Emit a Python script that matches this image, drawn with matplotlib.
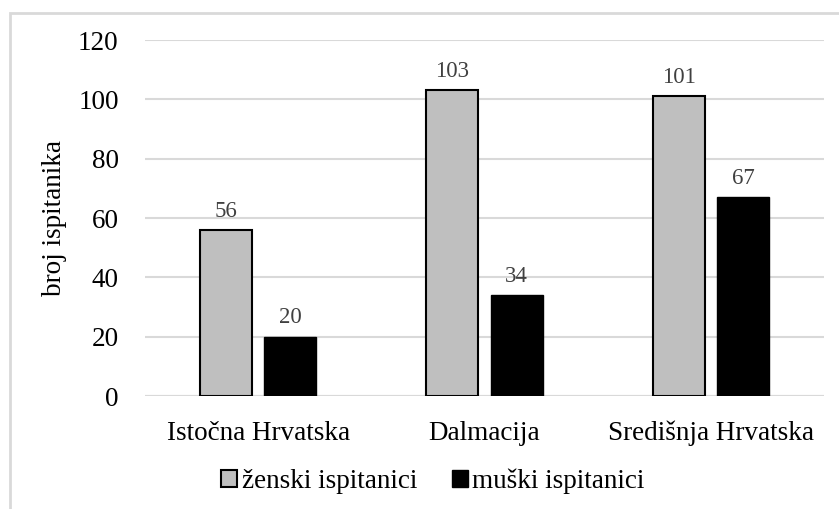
import numpy as np
import matplotlib.pyplot as plt
from matplotlib.patches import Rectangle

regije = ['Istočna Hrvatska', 'Dalmacija', 'Središnja Hrvatska']
zenski = [56, 103, 101]
muski = [20, 34, 67]
serije = ['ženski ispitanici', 'muški ispitanici']
y_ticks = [0, 20, 40, 60, 80, 100, 120]

plt.rcParams['font.family'] = ['Liberation Serif', 'DejaVu Serif']

fig = plt.figure(figsize=(8.39, 5.09), dpi=100)
# light frame around the chart area
fig.patches.append(Rectangle((10 / 839, -0.1), 1.2, 1 - 13 / 509 + 0.1,
                             transform=fig.transFigure, fill=False,
                             edgecolor='#d9d9d9', linewidth=2))

ax = fig.add_axes([145 / 839, 1 - 396 / 509, 679 / 839, 356 / 509])

x = np.arange(len(regije))
w = 0.23
off = 0.142
b1 = ax.bar(x - off, zenski, w, color='#bfbfbf', edgecolor='black', linewidth=1.5,
            label=serije[0], zorder=3)
b2 = ax.bar(x + off, muski, w, color='black', edgecolor='black', linewidth=1.0,
            label=serije[1], zorder=3)

for bars in (b1, b2):
    for r in bars:
        ax.annotate(f'{int(r.get_height())}', (r.get_x() + r.get_width() / 2, r.get_height()),
                    xytext=(0, 6), textcoords='offset points', ha='center', va='bottom',
                    fontsize=16.5, color='#404040')

ax.set_xlim(-0.5, 2.5)
ax.set_ylim(0, 120)
ax.set_yticks(y_ticks)
ax.set_xticks(x)
ax.set_xticklabels(regije)
ax.tick_params(axis='both', length=0, labelsize=19.5)
ax.tick_params(axis='x', pad=18)
ax.tick_params(axis='y', pad=19)
ax.yaxis.grid(True, color='#d9d9d9', linewidth=1.5, zorder=0)
for s in ax.spines.values():
    s.set_visible(False)
ax.axhline(0, color='#d9d9d9', linewidth=1.5, zorder=1)
ax.set_ylabel('broj ispitanika', fontsize=19.5, labelpad=8)

leg = fig.legend(handles=[b1, b2], labels=serije, loc='center', bbox_to_anchor=(433 / 839, 1 - 481 / 509),
                 ncol=2, frameon=False, fontsize=19.5, handlelength=0.6, handleheight=0.6,
                 handletextpad=0.15, columnspacing=1.3, borderpad=0.1)

fig.savefig('out.png', dpi=100)
